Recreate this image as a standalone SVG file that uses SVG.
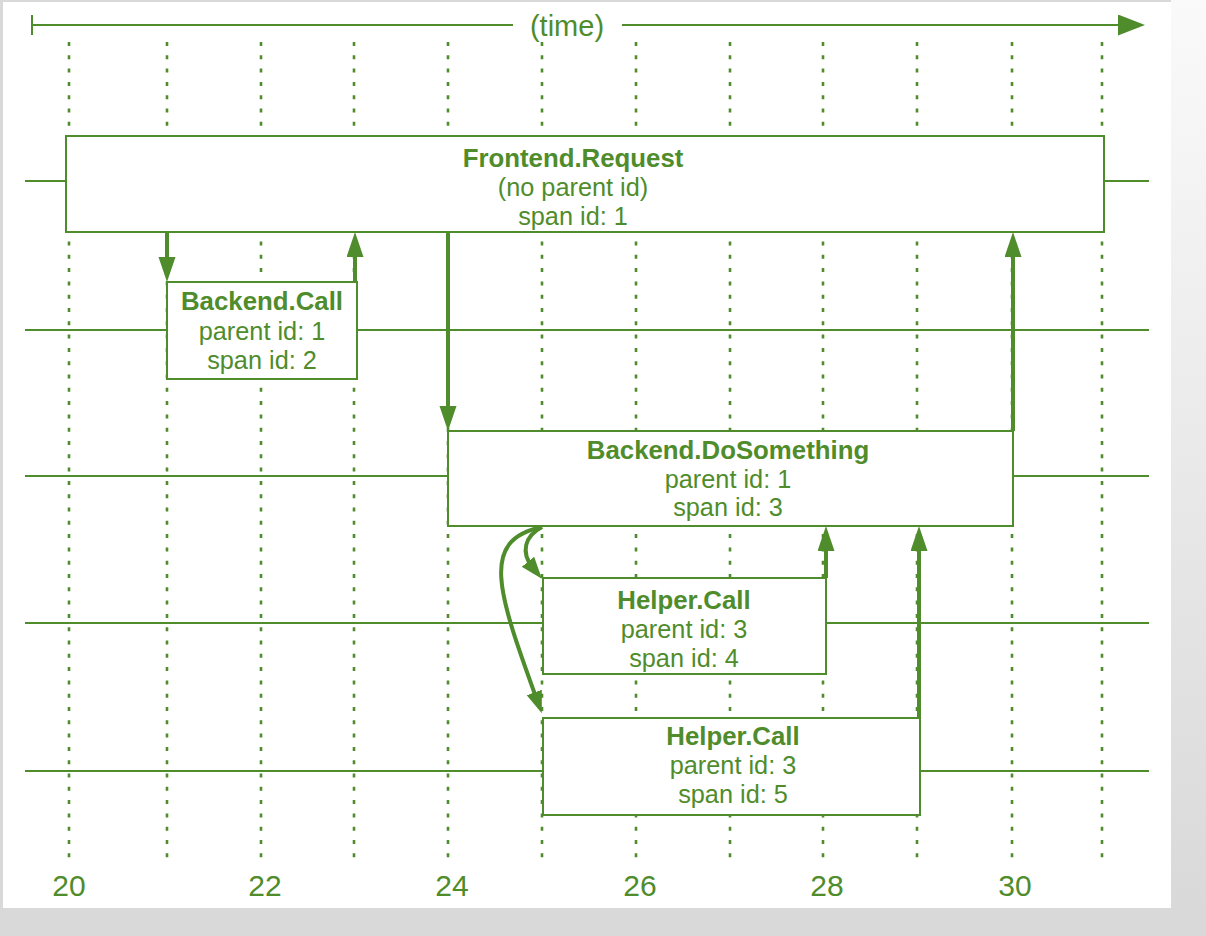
<svg xmlns="http://www.w3.org/2000/svg" width="1206" height="936" viewBox="0 0 1206 936">
<style>
.grid{stroke:#4f8c2b;stroke-width:2.6;stroke-dasharray:4 9.3;fill:none}
.lane{stroke:#4f8c2b;stroke-width:2;fill:none}
.box{fill:#ffffff;stroke:#4f8c2b;stroke-width:2}
.arr{stroke:#4f8c2b;stroke-width:4;fill:none}
.t{font-family:"Liberation Sans",Arial,sans-serif;fill:#4f8c2b;text-anchor:middle}
.b{font-size:25.8px;font-weight:bold}
.r{font-size:25.3px}
.n{font-size:30px}
</style>
<defs>
<linearGradient id="rg" x1="0" y1="0" x2="0" y2="1">
<stop offset="0" stop-color="#fafafa"/>
<stop offset="1" stop-color="#d9d9d9"/>
</linearGradient>
<marker id="ah" markerUnits="userSpaceOnUse" markerWidth="26" markerHeight="18" refX="10" refY="8.5" orient="auto">
<path d="M0,0 L25,8.5 L0,17 z" fill="#4f8c2b"/>
</marker>
<marker id="ah2" markerUnits="userSpaceOnUse" markerWidth="24" markerHeight="18" refX="8" refY="8" orient="auto">
<path d="M0,0 L22,8 L0,16 z" fill="#4f8c2b"/>
</marker>
<marker id="ta" markerUnits="userSpaceOnUse" markerWidth="28" markerHeight="22" refX="4" refY="10.5" orient="auto">
<path d="M0,0 L27,10.5 L0,21 z" fill="#4f8c2b"/>
</marker>
</defs>
<rect x="0" y="0" width="1206" height="936" fill="#d9d9d9"/>
<rect x="3" y="2" width="1168" height="906" fill="#ffffff"/>
<rect x="1171" y="0" width="35" height="908" fill="url(#rg)"/>

<g id="axis">
<line class="lane" x1="32" y1="15" x2="32" y2="35"/>
<line class="lane" x1="32" y1="25" x2="513" y2="25"/>
<line class="lane" x1="622" y1="25" x2="1122" y2="25" marker-end="url(#ta)"/>
<text class="t n" x="567" y="36" style="font-size:29px">(time)</text>
</g>

<g id="grid">
<line class="grid" x1="69" y1="42" x2="69" y2="858"/>
<line class="grid" x1="167" y1="42" x2="167" y2="858"/>
<line class="grid" x1="261" y1="42" x2="261" y2="858"/>
<line class="grid" x1="354" y1="42" x2="354" y2="858"/>
<line class="grid" x1="448" y1="42" x2="448" y2="858"/>
<line class="grid" x1="542" y1="42" x2="542" y2="858"/>
<line class="grid" x1="636" y1="42" x2="636" y2="858"/>
<line class="grid" x1="730" y1="42" x2="730" y2="858"/>
<line class="grid" x1="823" y1="42" x2="823" y2="858"/>
<line class="grid" x1="917" y1="42" x2="917" y2="858"/>
<line class="grid" x1="1012" y1="42" x2="1012" y2="858"/>
<line class="grid" x1="1102" y1="42" x2="1102" y2="858"/>
</g>

<g id="lanes">
<line class="lane" x1="25" y1="181" x2="1149" y2="181"/>
<line class="lane" x1="25" y1="330" x2="1149" y2="330"/>
<line class="lane" x1="25" y1="476" x2="1149" y2="476"/>
<line class="lane" x1="25" y1="623" x2="1149" y2="623"/>
<line class="lane" x1="25" y1="771" x2="1149" y2="771"/>
</g>

<g id="frontend-request">
<rect class="box" x="66" y="136" width="1038" height="96"/>
<text class="t b" x="573" y="167">Frontend.Request</text>
<text class="t r" x="573" y="196">(no parent id)</text>
<text class="t r" x="573" y="225">span id: 1</text>
</g>

<g id="backend-call">
<rect class="box" x="167" y="282" width="190" height="97"/>
<text class="t b" x="262" y="310">Backend.Call</text>
<text class="t r" x="262" y="340">parent id: 1</text>
<text class="t r" x="262" y="369">span id: 2</text>
</g>

<g id="backend-dosomething">
<rect class="box" x="448" y="431" width="565" height="95"/>
<text class="t b" x="728" y="459">Backend.DoSomething</text>
<text class="t r" x="728" y="488">parent id: 1</text>
<text class="t r" x="728" y="516">span id: 3</text>
</g>

<g id="helper-call-4">
<rect class="box" x="543" y="578" width="283" height="96"/>
<text class="t b" x="684" y="609">Helper.Call</text>
<text class="t r" x="684" y="638">parent id: 3</text>
<text class="t r" x="684" y="667">span id: 4</text>
</g>

<g id="helper-call-5">
<rect class="box" x="543" y="718" width="377" height="97"/>
<text class="t b" x="733" y="745">Helper.Call</text>
<text class="t r" x="733" y="774">parent id: 3</text>
<text class="t r" x="733" y="803">span id: 5</text>
</g>

<g id="connectors">
<path class="arr" d="M167,232 L167,267" marker-end="url(#ah)"/>
<path class="arr" d="M355,282 L355,247" marker-end="url(#ah)"/>
<path class="arr" d="M448,232 L448,416" marker-end="url(#ah)"/>
<path class="arr" d="M1013,431 L1013,247" marker-end="url(#ah)"/>
<path class="arr" d="M826,578 L826,541" marker-end="url(#ah)"/>
<path class="arr" d="M919,718 L919,541" marker-end="url(#ah)"/>
<path class="arr" d="M542,527 C525,536 520,552 533,568" marker-end="url(#ah2)"/>
<path class="arr" d="M542,527 C480,540 497,590 537,700" marker-end="url(#ah2)"/>
</g>

<g id="ticks">
<text class="t n" x="69" y="896">20</text>
<text class="t n" x="265" y="896">22</text>
<text class="t n" x="452" y="896">24</text>
<text class="t n" x="640" y="896">26</text>
<text class="t n" x="827" y="896">28</text>
<text class="t n" x="1015" y="896">30</text>
</g>
</svg>
